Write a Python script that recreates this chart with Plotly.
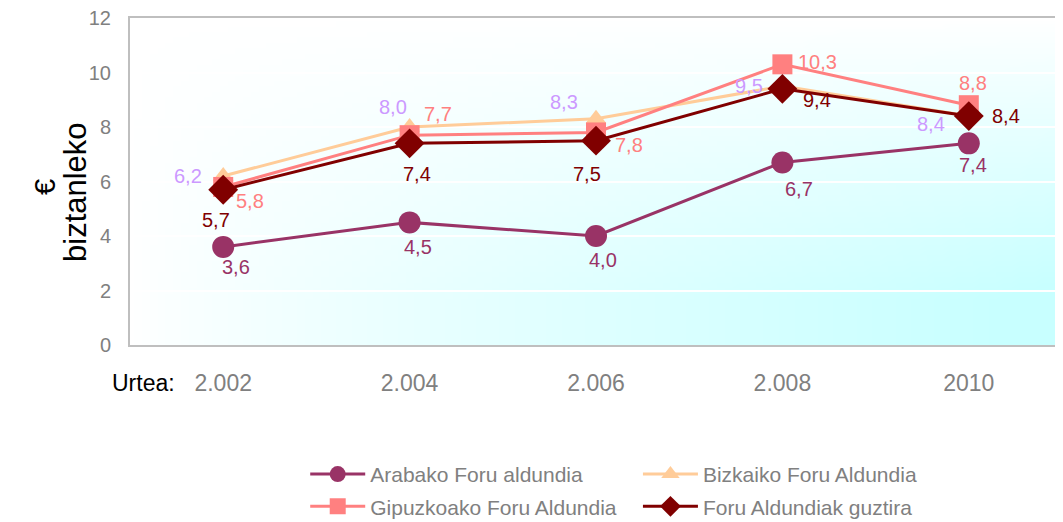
import base64, struct, zlib
import plotly.graph_objects as go

# ---- data ----
years = ["2.002", "2.004", "2.006", "2.008", "2010"]
arabako = [3.6, 4.5, 4.0, 6.7, 7.4]
bizkaiko = [6.2, 8.0, 8.3, 9.5, 8.4]
gipuzkoako = [5.8, 7.7, 7.8, 10.3, 8.8]
guztira = [5.7, 7.4, 7.5, 9.4, 8.4]
names = ["Arabako Foru aldundia", "Bizkaiko Foru Aldundia",
         "Gipuzkoako Foru Aldundia", "Foru Aldundiak guztira"]

def fmt(v):
    return f"{v:.1f}".replace(".", ",")

# ---- gradient background as PNG ----
def gradient_png(w=120, h=60):
    rows = b""
    for j in range(h):
        v = j / (h - 1)
        row = b"\x00"
        for i in range(w):
            u = i / (w - 1)
            t = min(1.0, (u ** 0.8) * (min(1.0, v * 1.15) ** 0.9) * 1.05)
            r = int(round(255 - t * 55))
            row += bytes([r, 255, 255])
        rows += row
    def chunk(tag, data):
        c = struct.pack(">I", len(data)) + tag + data
        return c + struct.pack(">I", zlib.crc32(tag + data) & 0xffffffff)
    png = b"\x89PNG\r\n\x1a\n"
    png += chunk(b"IHDR", struct.pack(">IIBBBBB", w, h, 8, 2, 0, 0, 0))
    png += chunk(b"IDAT", zlib.compress(rows))
    png += chunk(b"IEND", b"")
    return "data:image/png;base64," + base64.b64encode(png).decode()

FONT = "Liberation Sans, Arial, sans-serif"
LBL = 20

series = [
    dict(y=arabako, name=names[0], line="#993366", txt="#993366", sym="circle", size=22,
         legend="legend", off=[(13, -20), (8, -25), (7, -24), (17, -27), (4, -22)]),
    dict(y=bizkaiko, name=names[1], line="#FFCC99", txt="#CC99FF", sym="triangle-up", size=18,
         legend="legend2", off=[(-35, 0), (-17, 20), (-32, 17), (-33, 0), (-38, -8)]),
    dict(y=gipuzkoako, name=names[2], line="#FF8080", txt="#FF8080", sym="square", size=20,
         legend="legend", off=[(27, -14), (28, 21), (33, -13), (35, 2), (4, 22)]),
    dict(y=guztira, name=names[3], line="#800000", txt="#800000", sym="diamond", size=23,
         legend="legend2", off=[(-7, -30), (7, -31), (-9, -33), (35, -11), (37, 0)]),
]

fig = go.Figure()
annotations = []
for k, s in enumerate(series):
    fig.add_trace(go.Scatter(
        x=years, y=s["y"], name=s["name"], mode="lines+markers",
        line=dict(color=s["line"], width=3),
        marker=dict(symbol=s["sym"], size=s["size"], color=s["line"]),
        legend=s["legend"], legendgroup=f"g{k}", cliponaxis=False))
    for idx, (yi, (dx, dy)) in enumerate(zip(s["y"], s["off"])):
        annotations.append(dict(
            x=idx, y=yi, xref="x", yref="y", text=fmt(yi), showarrow=False,
            xshift=dx, yshift=dy, xanchor="center", yanchor="middle",
            font=dict(color=s["txt"], size=LBL, family=FONT)))

# plot area in figure pixels: x 122..1054, y 10..337 (page adds an 8px offset)
PW, PH = 932, 327
def px(xs):
    return (xs - 8 - 122) / PW
def py(ys):
    return (337 - (ys - 8)) / PH

annotations.append(dict(text="Urtea:", xref="paper", yref="paper", x=px(143), y=py(383),
                        xanchor="center", yanchor="middle", showarrow=False,
                        font=dict(size=23, color="black", family=FONT)))
annotations.append(dict(text="€", xref="paper", yref="paper", x=px(45), y=py(187),
                        textangle=-90, xanchor="center", yanchor="middle", showarrow=False,
                        font=dict(size=29, color="black", family=FONT)))
annotations.append(dict(text="biztanleko", xref="paper", yref="paper", x=px(76), y=py(192),
                        textangle=-90, xanchor="center", yanchor="middle", showarrow=False,
                        font=dict(size=31, color="black", family=FONT)))

legend_common = dict(
    orientation="v", yanchor="top", xanchor="left",
    font=dict(color="#808080", size=21, family=FONT),
    bgcolor="rgba(0,0,0,0)", itemwidth=55, tracegroupgap=2,
)

fig.update_layout(
    width=1055, height=514,
    margin=dict(l=122, r=1, t=10, b=177, autoexpand=False),
    paper_bgcolor="white", plot_bgcolor="white",
    font=dict(family=FONT, color="#808080"),
    showlegend=True,
    legend=dict(x=0.188, y=-0.333, **legend_common),
    legend2=dict(x=0.545, y=-0.333, **legend_common),
    images=[dict(source=gradient_png(), xref="paper", yref="paper",
                 x=0, y=1, sizex=1, sizey=1, sizing="stretch",
                 layer="below", xanchor="left", yanchor="top")],
    xaxis=dict(
        type="category", range=[-0.5, 4.5], showgrid=False, automargin=False,
        showline=True, linecolor="#BFBFBF", linewidth=2, mirror=True,
        ticks="", tickfont=dict(size=23, color="#808080", family=FONT),
        ticklabelstandoff=16, zeroline=False, ticklabeloverflow="allow"),
    yaxis=dict(
        range=[0, 12], dtick=2, showgrid=True, gridcolor="white", gridwidth=2,
        automargin=False,
        showline=True, linecolor="#BFBFBF", linewidth=2, mirror=True,
        ticks="", tickfont=dict(size=20, color="#808080", family=FONT),
        ticklabelstandoff=13, zeroline=False, ticklabeloverflow="allow"),
    annotations=annotations,
)

fig.write_html("out.html")
